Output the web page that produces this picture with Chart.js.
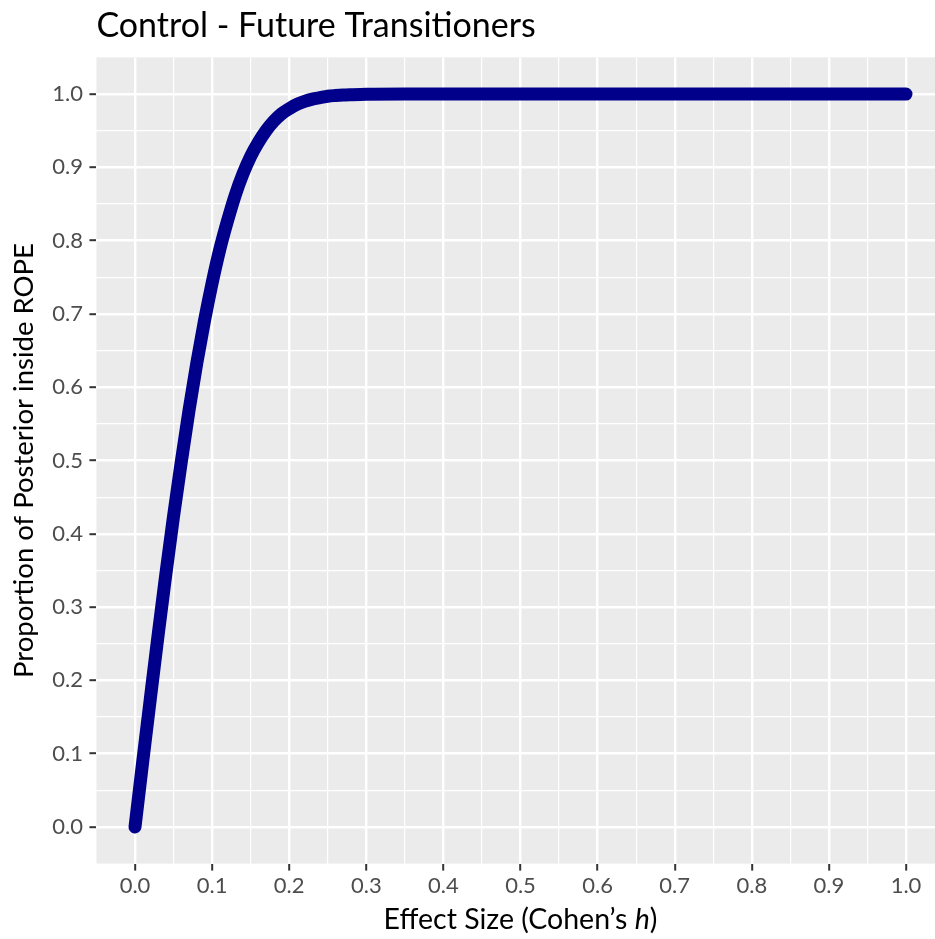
<!DOCTYPE html>
<html>
<head>
<meta charset="utf-8">
<title>Control - Future Transitioners</title>
<script src="https://cdn.jsdelivr.net/npm/chart.js@4/dist/chart.umd.min.js"></script>
<style>
  html, body { margin: 0; padding: 0; background: #ffffff; }
  canvas { display: block; }
</style>
</head>
<body>
<canvas id="chart" width="935" height="939"></canvas>
<script>
// Effect size (Cohen's h) on x, share of the posterior inside the ROPE on y
const effectSize = [
  0.00, 0.01, 0.02, 0.03, 0.04, 0.05, 0.06, 0.07, 0.08, 0.09,
  0.10, 0.11, 0.12, 0.13, 0.14, 0.15, 0.16, 0.17, 0.18, 0.19,
  0.20, 0.21, 0.22, 0.23, 0.24, 0.25, 0.26, 0.27, 0.28, 0.30,
  0.35, 0.40, 0.50, 0.60, 0.70, 0.80, 0.90, 1.00
];
const propInsideRope = [
  0.000, 0.089, 0.176, 0.262, 0.345, 0.424, 0.498, 0.568, 0.632, 0.690,
  0.742, 0.788, 0.827, 0.862, 0.891, 0.915, 0.934, 0.950, 0.963, 0.973,
  0.980, 0.986, 0.990, 0.993, 0.995, 0.997, 0.998, 0.9987, 0.9991, 0.9997,
  1.000, 1.000, 1.000, 1.000, 1.000, 1.000, 1.000, 1.000
];

// Labelled breaks and the in-between breaks (both axes share them)
const majorBreaks = [0.0, 0.1, 0.2, 0.3, 0.4, 0.5, 0.6, 0.7, 0.8, 0.9, 1.0];
const minorBreaks = [0.05, 0.15, 0.25, 0.35, 0.45, 0.55, 0.65, 0.75, 0.85, 0.95];

const titleText = 'Control - Future Transitioners';
const yTitleText = 'Proportion of Posterior inside ROPE';
const xTitleParts = ['Effect Size (Cohen\u2019s ', 'h', ')'];

const FONT = "Lato, 'Open Sans', 'DejaVu Sans', sans-serif";
const PANEL_BG = '#EBEBEB';
const TICK_TEXT = '#4D4D4D';
const TICK_MARK = '#333333';
const LINE_COLOR = '#00008B';

const points = effectSize.map((x, i) => ({ x: x, y: propInsideRope[i] }));

function setBreaks(scale) {
  const all = majorBreaks.map(v => ({ value: v, isMajor: true }))
    .concat(minorBreaks.map(v => ({ value: v, isMajor: false })));
  all.sort((a, b) => a.value - b.value);
  scale.ticks = all;
}

const gridOptions = {
  color: '#FFFFFF',
  lineWidth: ctx => (ctx.tick && ctx.tick.isMajor) ? 2.4 : 1.2,
  drawTicks: true,
  tickLength: 7,
  tickWidth: 2,
  tickColor: ctx => (ctx.tick && ctx.tick.isMajor) ? TICK_MARK : 'rgba(0,0,0,0)'
};

const labelCallback = function (value, index, ticks) {
  return ticks[index] && ticks[index].isMajor ? Number(value).toFixed(1) : '';
};

// Grey panel behind the grid
const panelPlugin = {
  id: 'panel',
  beforeDraw(chart) {
    const a = chart.chartArea;
    const c = chart.ctx;
    c.save();
    c.fillStyle = PANEL_BG;
    c.fillRect(a.left, a.top, a.right - a.left, a.bottom - a.top);
    c.restore();
  }
};

// x-axis title with an italic "h"
const xTitlePlugin = {
  id: 'xTitle',
  afterDraw(chart) {
    const c = chart.ctx;
    const xs = chart.scales.x;
    const size = 28.5;
    const fonts = [
      `normal ${size}px ${FONT}`,
      `italic ${size}px ${FONT}`,
      `normal ${size}px ${FONT}`
    ];
    c.save();
    c.fillStyle = '#000000';
    c.textBaseline = 'alphabetic';
    c.textAlign = 'left';
    let total = 0;
    const widths = xTitleParts.map((t, i) => {
      c.font = fonts[i];
      const w = c.measureText(t).width;
      total += w;
      return w;
    });
    let x = xs.getPixelForValue(0.5) - total / 2;
    const y = 929;
    xTitleParts.forEach((t, i) => {
      c.font = fonts[i];
      c.fillText(t, x, y);
      x += widths[i];
    });
    c.restore();
  }
};

new Chart(document.getElementById('chart'), {
  type: 'line',
  data: {
    datasets: [{
      data: points,
      borderColor: LINE_COLOR,
      backgroundColor: LINE_COLOR,
      borderWidth: 13,
      borderCapStyle: 'round',
      borderJoinStyle: 'round',
      cubicInterpolationMode: 'monotone',
      pointRadius: 0,
      pointHoverRadius: 0,
      fill: false
    }]
  },
  options: {
    responsive: false,
    animation: false,
    devicePixelRatio: 1,
    layout: { padding: 0, autoPadding: false },
    events: [],
    plugins: {
      legend: { display: false },
      tooltip: { enabled: false },
      title: {
        display: true,
        text: titleText,
        align: 'start',
        fullSize: false,
        color: '#000000',
        font: { family: FONT, size: 34, weight: 'normal', lineHeight: 1.2 },
        padding: { top: 5.5, bottom: 11.1 }
      }
    },
    scales: {
      x: {
        type: 'linear',
        min: -0.05,
        max: 1.0376,
        afterBuildTicks: setBreaks,
        afterFit: scale => { scale.height = 75.4; },
        border: { display: false },
        grid: gridOptions,
        ticks: {
          autoSkip: false,
          maxRotation: 0,
          minRotation: 0,
          padding: 2,
          color: TICK_TEXT,
          font: { family: FONT, size: 22, lineHeight: 1.2 },
          callback: labelCallback
        }
      },
      y: {
        type: 'linear',
        min: -0.05,
        max: 1.05,
        afterBuildTicks: setBreaks,
        afterFit: scale => { scale.width = 96.45; },
        border: { display: false },
        grid: gridOptions,
        ticks: {
          autoSkip: false,
          padding: 6.5,
          color: TICK_TEXT,
          font: { family: FONT, size: 22, lineHeight: 1.2 },
          callback: labelCallback
        },
        title: {
          display: true,
          text: yTitleText,
          color: '#000000',
          font: { family: FONT, size: 27.5, lineHeight: 1.2 },
          padding: { top: 7.5, bottom: 0 }
        }
      }
    }
  },
  plugins: [panelPlugin, xTitlePlugin]
});
</script>
</body>
</html>
